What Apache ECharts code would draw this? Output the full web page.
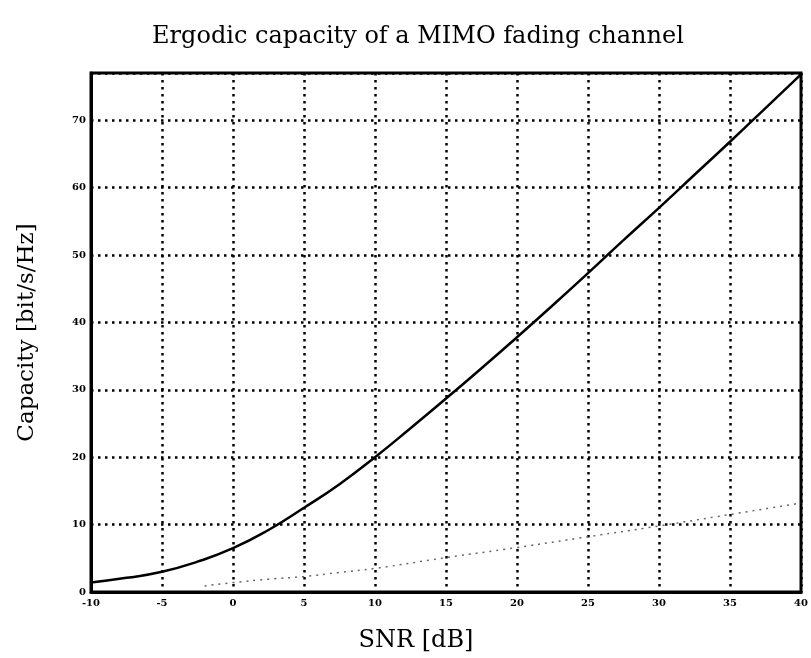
<!DOCTYPE html>
<html>
<head>
<meta charset="utf-8">
<script src="https://cdn.jsdelivr.net/npm/echarts@6/dist/echarts.min.js"></script>
<style>
html,body{margin:0;padding:0;background:#fff;}
#c{width:811px;height:658px;}
</style>
</head>
<body>
<div id="c"></div>
<script>
var titleText = 'Ergodic capacity of a MIMO fading channel';
var xName = 'SNR [dB]';
var yName = 'Capacity [bit/s/Hz]';

var snrMimo = [-10, -7.5, -5, -2.5, 0, 2.5, 5, 7.5, 10, 12.5, 15, 17.5, 20, 22.5, 25, 27.5, 30, 32.5, 35, 37.5, 40];
var capMimo = [1.4, 2.1, 3.0, 4.5, 6.5, 9.2, 12.5, 16.0, 20.0, 24.3, 28.7, 33.2, 37.8, 42.5, 47.3, 52.2, 57.0, 61.9, 66.8, 71.8, 76.8];

var snrSiso = [-2, 0, 2.5, 5, 7.5, 10, 15, 20, 25, 30, 35, 40];
var capSiso = [0.9, 1.4, 1.9, 2.3, 2.9, 3.5, 5.1, 6.6, 8.2, 9.8, 11.5, 13.2];

function pairs(xs, ys){ return xs.map(function(x,i){ return [x, ys[i]]; }); }

var serif = '"DejaVu Serif", "Liberation Serif", serif';
var chart = echarts.init(document.getElementById('c'), null, {renderer:'canvas'});
chart.setOption({
  animation:false,
  backgroundColor:'#fff',
  title:{
    text:titleText, left:413, top:20, textAlign:'center',
    textStyle:{fontFamily:serif, fontSize:24, fontWeight:'normal', color:'#000'}
  },
  grid:{left:91, right:10, top:73, bottom:54, show:true, borderColor:'#000', borderWidth:3},
  xAxis:{
    type:'value', min:-10, max:40, interval:5,
    name:xName, nameLocation:'middle', nameGap:37,
    nameTextStyle:{fontFamily:serif, fontSize:24, color:'#000', padding:[0,60,0,0]},
    axisLine:{show:true, onZero:false, lineStyle:{color:'#000', width:3}},
    axisTick:{show:false},
    axisLabel:{color:'#000', fontFamily:serif, fontSize:10, fontWeight:'bold', margin:6},
    splitLine:{show:true, lineStyle:{color:'#000', width:2.5, type:[2.5,4.5]}}
  },
  yAxis:{
    type:'value', min:0, max:77, interval:10,
    name:yName, nameLocation:'middle', nameGap:52, nameRotate:90,
    nameTextStyle:{fontFamily:serif, fontSize:23, color:'#000'},
    axisLine:{show:true, onZero:false, lineStyle:{color:'#000', width:3}},
    axisTick:{show:false},
    axisLabel:{color:'#000', fontFamily:serif, fontSize:10, fontWeight:'bold', margin:5,
      formatter:function(v){ return (v % 10 === 0) ? String(v) : ''; }},
    splitLine:{show:true, lineStyle:{color:'#000', width:2.5, type:[2.5,4.5]}}
  },
  series:[
    {type:'line', data:pairs(snrMimo, capMimo), smooth:0.5, showSymbol:false,
     lineStyle:{color:'#000', width:2.5}},
    {type:'line', data:pairs(snrSiso, capSiso), smooth:0.5, showSymbol:false,
     lineStyle:{color:'#666', width:1.5, type:[2,5]}}
  ]
});
</script>
</body>
</html>
